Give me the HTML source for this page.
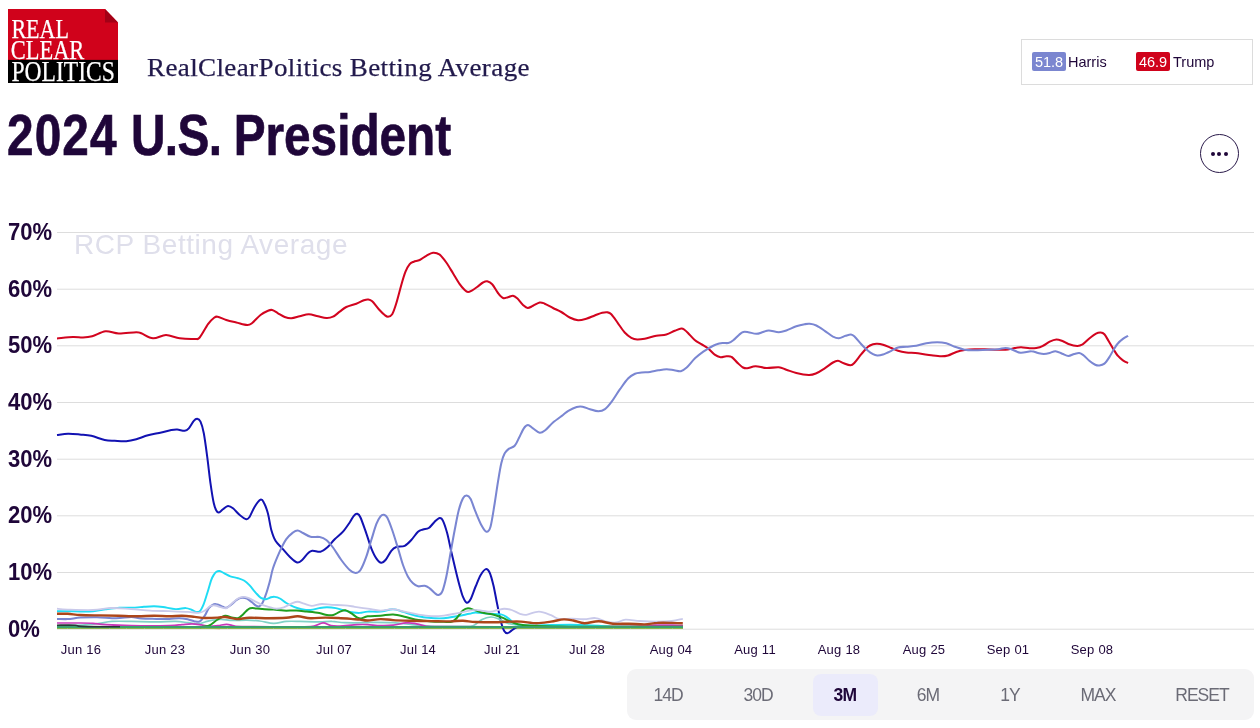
<!DOCTYPE html>
<html lang="en">
<head>
<meta charset="utf-8">
<title>2024 U.S. President - RealClearPolitics Betting Average</title>
<style>
html,body{margin:0;padding:0;background:#fff;}
body{width:1260px;height:728px;position:relative;overflow:hidden;font-family:"Liberation Sans",sans-serif;color:#1f0639;}
.abs{position:absolute;white-space:nowrap;}
#logo{position:absolute;left:8px;top:8.5px;width:110px;height:74px;}
#subtitle{left:147px;top:54px;font-family:"Liberation Serif",serif;font-size:25.5px;line-height:28px;color:#221a4c;transform-origin:0 50%;transform:scaleX(1.06);letter-spacing:0.36px;-webkit-text-stroke:0.25px #221a4c;}
#title{left:7.4px;top:102px;-webkit-text-stroke:0.7px #1f0639;font-weight:bold;font-size:58px;line-height:66px;color:#1f0639;transform-origin:0 50%;transform:scaleX(0.823);}
#legend{position:absolute;left:1021px;top:39px;width:231.8px;height:45.8px;border:1px solid #dcdcdc;box-sizing:border-box;background:#fff;}
.badge{position:absolute;top:12px;width:34px;height:19px;border-radius:2px;color:#fff;font-size:14.5px;line-height:20.5px;text-align:center;}
.lname{position:absolute;top:12px;font-size:14.5px;line-height:20.5px;color:#1f0639;}
#menu{position:absolute;left:1200px;top:134px;width:39px;height:39px;border:1.5px solid #2a1a4a;border-radius:50%;box-sizing:border-box;}
#menu i{position:absolute;top:16.7px;width:4px;height:4px;border-radius:50%;background:#1f0639;}
#chart{position:absolute;left:0;top:0;width:1260px;height:728px;}
.yl{font-weight:bold;font-size:23.2px;line-height:24px;left:7.6px;transform-origin:0 50%;transform:scaleX(0.95);color:#1f0639;}
.xl{font-size:13px;letter-spacing:0.25px;line-height:14px;top:642.7px;color:#1f0639;transform:translateX(-50%);}
#wm{left:74px;top:229px;font-size:28px;letter-spacing:0.55px;line-height:32px;color:#dfdfeb;}
#bar{position:absolute;left:627px;top:669px;width:626.5px;height:51px;border-radius:9px;background:#f4f4f5;}
.btn{position:absolute;top:5px;height:42px;width:65px;border-radius:8px;font-size:17.5px;letter-spacing:-1px;text-indent:-1px;line-height:43px;text-align:center;color:#6b6b76;}
.btn.on{background:#ebebfb;color:#1f0639;font-weight:bold;letter-spacing:-0.6px;}
</style>
</head>
<body>
<svg id="chart" viewBox="0 0 1260 728">
<g stroke="#dddddd" stroke-width="1" fill="none">
<path d="M57 232.5H1254M57 289.2H1254M57 345.8H1254M57 402.5H1254M57 459.2H1254M57 515.8H1254M57 572.5H1254M57 629.2H1254"/>
</g>
<!--LINES-->
<g fill="none" stroke-linecap="butt" stroke-linejoin="round">
<path id="s-orange" stroke="#e3a52c" stroke-width="1.4" d="M170.0 628.4C172.0 628.4 175.8 628.1 182.0 628.1C188.2 628.1 200.7 628.0 207.0 628.1C213.3 628.2 217.8 628.4 220.0 628.5"/>
<path id="s-yellowgreen" stroke="#a8c040" stroke-width="1.0" d="M57.0 628.5C161.3 628.5 578.7 628.5 683.0 628.5"/>
<path id="s-biden" stroke="#1212b2" stroke-width="2.0" d="M57.0 435.1C58.8 434.9 64.2 433.8 68.0 433.7C71.8 433.6 75.8 434.1 79.7 434.5C83.6 434.9 87.1 434.9 91.3 435.8C95.5 436.7 100.8 439.2 104.7 440.0C108.6 440.8 111.1 440.6 114.7 440.8C118.3 441.0 122.7 441.5 126.3 441.2C129.9 440.9 132.7 440.2 136.3 439.2C139.9 438.2 143.8 436.4 148.0 435.3C152.2 434.2 157.4 433.4 161.3 432.5C165.2 431.6 168.7 430.5 171.3 430.0C174.0 429.5 175.0 429.4 177.2 429.5C179.4 429.6 182.8 431.0 184.7 430.8C186.6 430.6 187.3 430.0 188.8 428.3C190.3 426.6 192.4 422.4 193.8 420.8C195.2 419.2 196.1 418.7 197.2 418.8C198.3 418.9 199.4 419.3 200.5 421.7C201.6 424.1 202.7 427.5 203.8 433.3C204.9 439.1 206.1 448.4 207.2 456.7C208.3 465.0 209.4 475.5 210.5 483.3C211.6 491.1 212.8 498.8 213.8 503.3C214.8 507.8 215.5 509.0 216.3 510.5C217.1 512.0 217.7 512.7 218.8 512.5C219.9 512.3 221.5 510.3 223.0 509.2C224.5 508.1 226.3 506.1 228.0 506.0C229.7 505.9 231.1 506.8 233.0 508.3C234.9 509.8 237.5 513.2 239.7 515.0C241.9 516.8 244.6 519.0 246.3 519.3C248.0 519.6 248.3 518.8 249.7 516.7C251.1 514.6 252.9 509.5 254.7 506.7C256.5 503.9 259.0 500.4 260.5 499.7C262.0 499.0 262.6 500.1 263.8 502.5C265.1 504.9 266.8 509.2 268.0 513.8C269.2 518.4 270.1 525.5 271.3 530.0C272.6 534.5 273.7 537.8 275.5 540.8C277.3 543.8 279.8 545.6 282.2 548.3C284.6 550.9 287.2 554.3 289.7 556.7C292.2 559.1 295.1 562.0 297.2 562.5C299.3 563.0 300.4 561.5 302.2 560.0C304.0 558.5 306.3 554.8 308.0 553.3C309.7 551.8 310.1 551.1 312.2 550.8C314.3 550.5 318.0 552.2 320.5 551.7C323.0 551.2 324.8 549.6 327.2 547.5C329.6 545.4 332.1 541.8 334.7 539.2C337.3 536.6 340.5 534.5 343.0 531.7C345.5 528.9 347.9 525.1 349.7 522.5C351.5 519.9 352.6 517.2 353.8 515.8C355.1 514.3 356.1 513.5 357.2 513.8C358.3 514.1 359.0 514.2 360.5 517.5C362.0 520.8 364.5 528.2 366.3 533.3C368.1 538.4 369.6 544.1 371.3 548.3C373.0 552.5 374.6 555.9 376.3 558.3C378.0 560.7 379.8 562.5 381.3 562.8C382.8 563.1 383.8 562.0 385.5 560.0C387.2 558.0 389.5 553.0 391.3 550.8C393.1 548.6 394.1 547.8 396.3 547.0C398.5 546.2 402.2 547.0 404.7 545.8C407.2 544.6 409.1 542.4 411.3 540.0C413.5 537.6 416.1 533.5 418.0 531.7C419.9 530.0 421.2 530.1 423.0 529.5C424.8 528.9 426.9 529.3 428.8 528.0C430.8 526.7 432.9 523.4 434.7 521.7C436.5 520.0 438.3 518.1 439.7 518.0C441.1 517.9 441.8 518.2 443.0 520.8C444.2 523.3 445.8 528.1 447.2 533.3C448.6 538.4 449.9 545.8 451.3 551.7C452.7 557.6 454.0 563.3 455.3 568.7C456.6 574.1 457.8 579.2 459.1 583.9C460.4 588.5 461.6 593.5 462.9 596.6C464.2 599.7 465.4 602.3 466.7 602.7C468.0 603.1 469.1 601.9 470.6 599.2C472.1 596.5 473.9 590.5 475.6 586.5C477.3 582.5 479.0 577.9 480.7 575.0C482.4 572.1 484.3 569.5 485.8 569.1C487.3 568.7 488.3 569.8 489.6 572.5C490.9 575.2 492.1 579.9 493.4 585.2C494.7 590.5 495.9 598.2 497.2 604.3C498.5 610.4 499.8 617.6 501.0 622.0C502.2 626.4 503.1 629.0 504.2 630.9C505.3 632.8 506.2 633.2 507.4 633.2C508.6 633.2 509.9 631.8 511.2 630.9C512.5 630.0 513.9 628.8 515.0 628.1C516.1 627.4 517.0 627.0 518.0 626.6C519.0 626.2 520.5 626.1 521.0 626.0"/>
<path id="s-trump" stroke="#d2041f" stroke-width="2.05" d="M57.0 338.4C59.7 338.2 68.7 337.1 73.0 337.0C77.3 336.9 79.8 337.6 83.0 337.5C86.2 337.4 88.5 337.3 92.2 336.3C96.0 335.3 101.1 331.8 105.5 331.3C109.9 330.8 113.7 333.4 118.8 333.5C123.9 333.6 132.6 332.2 136.3 332.2C140.1 332.2 138.5 332.3 141.3 333.3C144.1 334.3 148.9 338.0 153.0 338.3C157.1 338.6 161.6 335.0 166.0 335.0C170.4 335.0 174.9 337.6 179.7 338.3C184.5 339.0 191.4 339.1 194.7 339.0C198.0 338.9 197.5 340.0 199.7 337.5C201.9 335.0 205.7 327.4 208.0 324.2C210.3 320.9 212.2 319.2 213.8 318.0C215.4 316.8 215.4 316.4 217.5 316.7C219.6 317.0 223.2 319.0 226.3 320.0C229.4 321.0 232.8 321.7 236.3 322.5C239.8 323.3 244.5 324.9 247.2 325.0C249.8 325.1 250.0 324.7 252.2 323.0C254.4 321.3 257.9 317.0 260.5 315.0C263.1 313.0 266.1 311.6 268.0 310.8C269.9 310.0 270.5 309.6 272.2 310.0C273.9 310.4 275.9 312.1 278.0 313.3C280.1 314.5 282.5 316.2 284.7 317.0C286.9 317.8 288.8 318.4 291.3 318.3C293.8 318.2 296.8 317.0 299.7 316.3C302.6 315.6 305.8 314.2 308.8 314.2C311.9 314.2 315.1 315.7 318.0 316.3C320.9 316.9 323.8 317.9 326.3 318.0C328.8 318.1 330.8 317.8 333.0 316.7C335.2 315.6 337.5 313.3 339.7 311.7C341.9 310.1 343.5 308.3 346.3 307.0C349.1 305.7 353.4 304.8 356.3 303.7C359.2 302.6 361.9 301.0 363.8 300.3C365.8 299.6 366.6 299.3 368.0 299.5C369.4 299.7 370.4 299.7 372.2 301.3C374.0 302.9 376.7 306.9 378.8 309.2C380.9 311.5 383.2 313.8 384.7 315.0C386.2 316.2 386.8 316.8 388.0 316.7C389.2 316.6 390.8 316.4 392.2 314.2C393.6 312.0 394.8 308.2 396.3 303.3C397.8 298.4 399.8 290.3 401.3 285.0C402.8 279.7 404.1 275.2 405.5 271.7C406.9 268.2 408.3 265.9 409.7 264.2C411.1 262.5 412.1 262.4 413.8 261.7C415.5 261.0 417.6 261.0 419.7 260.0C421.8 259.0 424.1 257.0 426.3 255.8C428.5 254.6 430.8 252.9 433.0 252.7C435.2 252.5 437.5 253.1 439.7 254.7C441.9 256.3 444.1 259.4 446.3 262.5C448.5 265.6 450.8 269.7 453.0 273.3C455.2 276.9 457.8 281.4 459.7 284.2C461.6 287.0 463.3 288.7 464.7 290.0C466.1 291.3 466.8 291.9 468.0 292.0C469.2 292.1 470.5 291.2 472.2 290.3C473.9 289.4 476.2 287.6 478.0 286.3C479.8 285.0 481.5 283.3 483.0 282.5C484.5 281.7 485.7 281.0 487.2 281.3C488.7 281.6 490.4 282.2 492.2 284.2C494.0 286.1 496.2 290.7 498.0 293.0C499.8 295.3 501.3 297.3 503.0 298.0C504.7 298.7 506.3 297.6 508.0 297.2C509.7 296.8 511.5 295.5 513.0 295.7C514.5 295.9 515.5 296.8 517.2 298.3C518.9 299.9 521.2 303.4 523.0 305.0C524.8 306.6 526.0 307.9 527.7 308.0C529.4 308.1 531.0 306.7 533.0 305.8C535.0 304.9 537.8 302.9 539.7 302.5C541.7 302.1 542.5 302.8 544.7 303.7C546.9 304.6 550.2 306.6 553.0 308.0C555.8 309.4 558.5 310.4 561.3 312.0C564.1 313.6 566.9 316.1 569.7 317.5C572.5 318.9 575.2 320.0 578.0 320.2C580.8 320.4 583.5 319.5 586.3 318.7C589.1 317.9 592.1 316.5 594.7 315.5C597.4 314.5 600.1 313.3 602.2 312.8C604.3 312.3 605.7 312.1 607.2 312.3C608.7 312.5 609.5 312.4 611.3 314.2C613.1 316.0 615.8 320.2 618.0 323.3C620.2 326.4 622.5 330.1 624.7 332.5C626.9 334.9 629.2 336.6 631.3 337.8C633.4 339.0 635.0 339.4 637.2 339.5C639.4 339.6 641.5 339.3 644.7 338.7C647.9 338.1 652.7 336.5 656.3 335.8C659.9 335.1 663.2 335.3 666.3 334.5C669.4 333.7 672.2 331.8 674.7 330.8C677.2 329.8 679.6 328.6 681.3 328.5C683.0 328.4 683.6 329.2 684.7 330.0C685.8 330.8 686.3 331.3 688.0 333.0C689.7 334.7 692.5 338.1 694.7 340.0C696.9 341.9 699.1 342.8 701.3 344.2C703.5 345.6 705.8 346.6 708.0 348.3C710.2 350.1 712.6 353.2 714.7 354.7C716.8 356.2 718.6 356.9 720.5 357.2C722.4 357.5 724.4 356.3 726.3 356.3C728.2 356.3 729.8 355.8 731.7 357.0C733.7 358.2 736.1 361.6 738.0 363.3C739.9 365.1 741.5 366.7 743.0 367.5C744.5 368.3 745.1 368.5 747.2 368.3C749.3 368.1 752.3 366.4 755.5 366.3C758.7 366.2 762.4 367.8 766.3 368.0C770.2 368.2 775.5 367.0 778.8 367.3C782.1 367.6 783.4 368.8 786.3 369.7C789.2 370.6 792.5 372.1 796.3 373.0C800.0 373.9 805.5 374.9 808.8 375.0C812.1 375.1 813.6 374.4 816.3 373.3C818.9 372.2 821.9 370.1 824.7 368.3C827.5 366.5 830.8 363.8 833.0 362.5C835.2 361.2 836.2 360.7 838.0 360.8C839.8 360.9 841.7 362.6 843.8 363.3C845.9 364.1 848.7 365.4 850.5 365.3C852.3 365.2 852.9 364.4 854.7 362.5C856.5 360.6 859.1 356.8 861.3 354.2C863.5 351.6 866.0 348.4 868.0 346.7C870.0 345.0 871.5 344.7 873.0 344.2C874.5 343.7 875.5 343.6 877.2 343.7C878.9 343.8 880.6 344.0 883.0 344.7C885.4 345.4 888.8 347.0 891.3 348.0C893.8 349.0 895.5 350.1 898.0 350.8C900.5 351.6 903.0 352.1 906.3 352.5C909.6 352.9 913.8 352.8 918.0 353.3C922.2 353.8 927.4 354.8 931.3 355.3C935.2 355.8 938.5 356.3 941.3 356.3C944.1 356.3 945.5 356.2 948.0 355.5C950.5 354.8 953.5 352.9 956.3 352.0C959.1 351.1 961.6 350.5 964.7 350.0C967.8 349.5 971.4 349.3 974.7 349.2C978.0 349.1 980.8 349.2 984.7 349.3C988.6 349.4 994.1 349.7 998.0 349.7C1001.9 349.7 1005.2 349.8 1008.0 349.5C1010.8 349.2 1012.5 348.4 1014.7 348.0C1016.9 347.6 1018.8 347.2 1021.3 347.3C1023.8 347.4 1027.2 348.2 1029.7 348.3C1032.2 348.4 1034.1 348.4 1036.3 348.0C1038.5 347.6 1040.8 346.9 1043.0 345.8C1045.2 344.8 1047.5 342.8 1049.7 341.7C1051.9 340.6 1054.1 339.6 1056.3 339.5C1058.5 339.4 1061.0 340.6 1063.0 341.3C1065.0 342.1 1066.0 343.2 1068.4 344.0C1070.8 344.8 1074.8 345.9 1077.2 346.0C1079.6 346.1 1080.6 345.6 1082.6 344.4C1084.6 343.1 1087.1 340.3 1089.3 338.5C1091.5 336.7 1094.1 334.6 1096.0 333.6C1097.9 332.6 1099.3 332.4 1100.7 332.5C1102.1 332.6 1103.1 332.9 1104.4 334.3C1105.7 335.7 1107.1 338.5 1108.6 341.0C1110.1 343.5 1112.1 346.9 1113.6 349.4C1115.1 351.8 1116.2 353.9 1117.8 355.7C1119.3 357.5 1121.2 359.1 1122.9 360.3C1124.6 361.5 1127.2 362.6 1128.1 363.0"/>
<path id="s-harris" stroke="#7a86d2" stroke-width="2.05" d="M57.0 618.9C58.8 618.9 63.8 619.3 67.7 619.1C71.6 618.9 75.5 617.9 80.4 617.6C85.3 617.3 91.1 617.1 97.0 617.2C102.9 617.3 110.3 618.2 116.0 618.2C121.7 618.2 127.0 617.0 131.2 617.0C135.4 617.0 137.1 618.2 141.3 618.5C145.5 618.8 151.9 618.8 156.6 618.9C161.3 619.0 165.5 619.0 169.3 618.9C173.1 618.8 176.2 618.1 179.4 618.2C182.6 618.3 185.8 619.0 188.3 619.5C190.9 620.0 192.8 621.1 194.7 621.4C196.6 621.7 198.1 622.3 199.8 621.4C201.5 620.5 203.3 617.9 204.8 615.7C206.3 613.5 207.3 610.0 208.8 608.1C210.3 606.2 212.4 604.9 213.9 604.3C215.4 603.7 216.2 604.2 217.7 604.6C219.2 605.0 221.3 606.3 222.8 606.8C224.3 607.3 225.1 608.2 226.6 607.8C228.1 607.4 230.0 605.6 231.7 604.3C233.4 603.0 235.0 600.9 236.7 599.8C238.4 598.7 240.1 597.9 241.8 597.7C243.5 597.5 245.2 597.7 246.9 598.5C248.6 599.3 250.5 601.1 252.0 602.3C253.5 603.5 254.6 604.8 255.8 605.5C257.0 606.2 257.9 606.8 259.0 606.5C260.1 606.2 260.9 605.7 262.1 603.6C263.3 601.5 264.7 597.8 266.0 594.1C267.3 590.4 268.6 585.7 269.8 581.4C271.0 577.1 271.4 573.2 273.0 568.3C274.6 563.3 277.5 556.6 279.7 551.7C281.9 546.9 284.1 542.4 286.3 539.2C288.5 536.0 291.1 534.0 293.0 532.5C294.9 531.0 296.0 530.4 297.7 530.5C299.4 530.6 300.9 532.0 303.0 533.0C305.1 534.0 307.7 536.0 310.5 536.7C313.3 537.4 317.1 536.5 319.7 537.0C322.3 537.5 324.1 538.2 326.3 540.0C328.5 541.8 330.5 544.2 333.0 547.5C335.5 550.8 338.5 556.2 341.3 560.0C344.1 563.8 347.3 567.8 349.7 570.0C352.1 572.2 353.7 573.0 355.5 573.0C357.3 573.0 358.7 572.7 360.5 570.0C362.3 567.3 364.5 561.7 366.3 556.7C368.1 551.7 369.6 545.4 371.3 540.0C373.0 534.6 374.8 528.2 376.3 524.2C377.8 520.2 379.2 517.9 380.5 516.3C381.8 514.7 382.7 514.5 383.8 514.7C384.9 514.9 385.8 515.0 387.2 517.5C388.6 520.0 390.4 524.9 392.2 530.0C394.0 535.1 396.2 542.5 398.0 548.3C399.8 554.1 401.3 560.3 403.0 565.0C404.7 569.7 406.3 573.7 408.0 576.7C409.7 579.8 411.3 581.7 413.0 583.3C414.7 584.9 416.1 585.9 418.0 586.3C419.9 586.7 422.8 585.5 424.7 585.8C426.6 586.1 428.0 587.1 429.7 588.3C431.4 589.5 433.3 591.9 434.7 593.0C436.1 594.1 437.1 595.2 438.3 595.0C439.6 594.8 440.9 594.8 442.2 591.7C443.5 588.7 444.9 583.1 446.3 576.7C447.7 570.3 449.1 561.1 450.5 553.3C451.9 545.5 453.3 537.2 454.7 530.0C456.1 522.8 457.4 515.3 458.8 510.0C460.2 504.7 461.7 500.7 463.0 498.3C464.3 495.9 465.4 495.4 466.7 495.5C467.9 495.6 469.0 496.1 470.5 498.8C472.0 501.5 473.7 507.3 475.5 511.7C477.3 516.1 479.5 521.7 481.3 525.0C483.1 528.3 484.8 531.4 486.3 531.7C487.8 532.0 489.1 531.4 490.5 526.7C491.9 522.0 493.4 510.8 494.7 503.3C495.9 495.8 496.9 488.4 498.0 481.7C499.1 475.0 500.2 468.0 501.3 463.3C502.4 458.6 503.4 455.7 504.7 453.3C505.9 450.9 507.1 450.1 508.8 448.8C510.5 447.6 513.0 447.6 514.7 445.8C516.4 444.1 517.3 441.2 518.8 438.3C520.3 435.4 522.3 430.5 523.8 428.3C525.3 426.1 526.5 425.0 528.0 425.0C529.5 425.0 531.0 427.0 533.0 428.3C535.0 429.6 537.6 432.5 539.7 432.8C541.8 433.1 543.3 431.7 545.5 430.0C547.7 428.3 550.1 425.0 553.0 422.5C555.9 420.0 560.5 416.9 563.0 415.0C565.5 413.1 566.0 412.1 568.3 410.8C570.6 409.5 574.3 407.7 576.7 407.0C579.1 406.3 580.3 406.3 582.5 406.7C584.7 407.1 587.4 408.4 590.0 409.2C592.6 410.0 595.8 411.3 598.3 411.3C600.8 411.3 602.8 410.8 605.0 409.2C607.2 407.6 609.2 405.0 611.7 401.7C614.2 398.4 617.2 393.1 620.0 389.2C622.8 385.3 625.8 380.9 628.3 378.3C630.8 375.7 632.8 374.7 635.0 373.7C637.2 372.7 639.2 372.8 641.7 372.5C644.2 372.2 647.2 372.4 650.0 372.0C652.8 371.6 655.5 370.8 658.3 370.3C661.1 369.8 664.1 369.2 666.7 369.2C669.4 369.2 671.9 370.0 674.2 370.3C676.6 370.6 678.7 371.7 680.8 371.2C682.9 370.7 684.3 369.6 686.7 367.5C689.1 365.4 692.2 360.9 695.0 358.3C697.8 355.7 700.8 353.5 703.3 351.7C705.8 349.9 707.8 348.8 710.0 347.5C712.2 346.2 714.6 344.9 716.7 344.2C718.8 343.4 720.6 343.2 722.5 343.0C724.4 342.8 726.5 343.4 728.3 343.0C730.1 342.6 731.5 341.7 733.3 340.3C735.1 338.9 737.5 336.1 739.2 334.7C740.9 333.3 741.8 332.4 743.3 332.0C744.8 331.6 746.1 331.9 748.3 332.2C750.5 332.5 753.8 333.8 756.3 333.8C758.8 333.8 760.9 332.6 763.0 332.0C765.1 331.4 766.2 330.5 768.8 330.5C771.4 330.5 775.9 332.2 778.8 332.2C781.7 332.2 783.4 331.5 786.3 330.5C789.2 329.5 793.2 327.4 796.3 326.3C799.4 325.2 802.5 324.6 804.7 324.2C806.9 323.8 807.8 323.6 809.7 323.8C811.6 324.0 813.8 324.3 816.3 325.5C818.8 326.7 821.9 328.9 824.7 330.8C827.5 332.7 830.6 335.4 833.0 336.7C835.4 337.9 836.7 338.4 838.8 338.3C840.9 338.2 843.5 336.4 845.5 335.8C847.5 335.2 849.5 334.4 851.0 334.5C852.5 334.6 853.0 335.1 854.7 336.7C856.4 338.3 859.1 341.8 861.3 344.2C863.5 346.6 866.0 349.1 868.0 350.8C870.0 352.5 871.5 353.4 873.0 354.2C874.5 355.0 875.5 355.4 877.2 355.5C878.9 355.6 880.6 355.3 883.0 354.5C885.4 353.7 888.8 352.0 891.3 350.8C893.8 349.6 895.5 348.2 898.0 347.5C900.5 346.8 903.2 347.0 906.3 346.7C909.3 346.4 913.0 346.4 916.3 345.8C919.6 345.2 922.8 343.9 926.3 343.3C929.8 342.7 933.9 342.3 937.2 342.3C940.5 342.3 943.4 342.6 946.3 343.3C949.2 344.0 951.6 345.6 954.7 346.7C957.8 347.8 961.4 349.1 964.7 349.7C968.0 350.3 970.8 350.2 974.7 350.2C978.6 350.2 984.1 349.8 988.0 349.7C991.9 349.6 995.1 349.6 998.0 349.3C1000.9 349.0 1003.3 348.0 1005.5 348.0C1007.7 348.0 1008.8 348.4 1011.3 349.2C1013.8 350.0 1017.2 352.4 1020.5 352.7C1023.8 353.0 1028.4 351.1 1031.3 351.2C1034.2 351.2 1035.9 352.5 1038.0 353.0C1040.1 353.5 1041.8 354.0 1043.8 354.0C1045.8 354.0 1047.8 353.5 1049.7 353.0C1051.7 352.5 1053.4 351.1 1055.5 351.2C1057.6 351.3 1060.0 352.9 1062.2 353.7C1064.4 354.5 1066.4 355.8 1068.4 355.9C1070.4 355.9 1072.4 354.5 1074.2 354.0C1076.0 353.5 1077.8 352.8 1079.3 353.0C1080.8 353.2 1081.8 354.0 1083.5 355.3C1085.2 356.6 1087.3 359.1 1089.3 360.7C1091.2 362.3 1093.5 363.9 1095.2 364.7C1096.9 365.5 1097.9 365.7 1099.4 365.5C1100.9 365.3 1102.7 365.0 1104.4 363.6C1106.1 362.2 1108.0 359.2 1109.5 356.9C1111.0 354.6 1112.2 352.0 1113.6 349.8C1115.0 347.6 1116.2 345.3 1117.8 343.5C1119.3 341.7 1121.2 340.2 1122.9 338.9C1124.6 337.6 1127.2 336.3 1128.1 335.8"/>
<path id="s-teal" stroke="#7fd2c6" stroke-width="1.7" d="M57.0 626.0C60.2 625.9 70.8 625.6 76.0 625.4C81.2 625.2 84.1 625.0 88.0 624.6C91.9 624.2 95.4 623.8 99.4 623.3C103.4 622.8 106.7 621.7 112.0 621.4C117.3 621.1 123.8 621.3 131.2 621.4C138.6 621.5 149.2 621.8 156.6 621.8C164.0 621.8 170.3 621.2 175.6 621.4C180.9 621.5 184.5 622.3 188.3 622.7C192.1 623.1 195.7 624.0 198.5 623.9C201.3 623.8 202.7 622.6 205.0 622.0C207.3 621.4 209.8 620.5 212.6 620.1C215.3 619.7 218.1 619.4 221.5 619.5C224.9 619.6 228.7 620.4 232.9 620.5C237.1 620.6 242.4 620.0 246.9 620.1C251.4 620.2 255.2 620.5 259.6 621.0C264.1 621.5 269.2 623.2 273.6 623.3C278.1 623.4 281.9 621.7 286.3 621.4C290.7 621.1 294.7 621.3 300.2 621.4C305.7 621.5 314.0 621.8 319.3 621.8C324.6 621.8 327.8 621.2 332.0 621.4C336.2 621.5 339.2 622.5 344.7 622.7C350.2 622.9 360.1 622.8 365.0 622.7C369.9 622.6 369.3 622.3 374.0 622.3C378.7 622.3 386.8 622.3 393.1 622.7C399.4 623.1 405.9 624.1 412.0 624.6C418.1 625.1 422.0 625.7 430.0 626.0C438.0 626.3 452.8 626.3 460.0 626.3C467.2 626.3 469.3 626.9 473.0 625.8C476.7 624.7 479.0 621.0 482.0 619.5C485.0 618.0 488.1 617.1 490.9 617.0C493.6 616.9 495.8 617.9 498.5 618.9C501.2 619.9 504.6 622.3 507.4 623.3C510.1 624.2 511.2 624.2 515.0 624.6C518.8 625.0 519.2 625.5 530.0 625.8C540.8 626.1 554.5 626.1 580.0 626.2C605.5 626.3 665.8 626.2 683.0 626.2"/>
<path id="s-magenta" stroke="#c738b8" stroke-width="1.7" d="M57.0 623.0C60.9 623.0 74.4 623.0 80.4 623.0C86.4 623.0 88.8 623.0 93.0 623.3C97.2 623.6 99.4 624.2 105.8 624.6C112.2 625.0 120.6 625.4 131.2 625.6C141.8 625.8 160.8 625.8 169.3 625.6C177.8 625.4 178.2 624.9 182.0 624.6C185.8 624.3 188.8 623.9 192.0 623.9C195.2 623.9 198.0 624.4 201.0 624.8C204.0 625.2 207.2 626.2 210.0 626.3C212.8 626.4 215.2 625.9 218.0 625.6C220.8 625.3 223.9 624.3 226.6 624.3C229.3 624.3 231.4 625.4 234.0 625.8C236.6 626.2 231.0 626.4 242.0 626.6C253.0 626.8 288.0 626.9 300.0 626.8C312.0 626.7 310.2 626.6 314.0 626.0C317.8 625.4 320.2 623.0 323.0 622.9C325.8 622.8 328.2 625.1 331.0 625.6C333.8 626.1 335.6 626.2 340.0 626.0C344.4 625.8 352.8 624.8 357.4 624.6C362.0 624.4 363.9 624.4 367.7 624.6C371.5 624.8 376.2 625.5 380.4 625.6C384.6 625.7 388.9 625.7 393.1 625.2C397.3 624.8 402.2 623.2 405.8 622.9C409.4 622.6 411.7 622.8 414.7 623.3C417.7 623.8 420.2 625.0 423.6 625.6C427.0 626.2 422.3 626.4 435.0 626.6C447.7 626.8 472.5 626.8 500.0 626.8C527.5 626.8 576.7 626.7 600.0 626.6C623.3 626.5 630.8 626.4 640.0 626.2C649.2 626.0 649.7 625.4 655.0 625.2C660.3 625.0 667.3 625.1 672.0 625.2C676.7 625.3 681.2 625.5 683.0 625.6"/>
<path id="s-cyan" stroke="#1fdcf4" stroke-width="1.95" d="M57.0 611.2C58.8 611.2 63.8 611.2 67.7 611.2C71.6 611.2 76.2 611.5 80.4 611.5C84.6 611.5 88.8 611.6 93.0 611.2C97.2 610.8 101.5 609.9 105.8 609.3C110.0 608.7 114.3 608.0 118.5 607.8C122.7 607.5 127.0 608.0 131.2 607.8C135.4 607.6 140.1 607.1 143.9 606.8C147.7 606.5 150.8 606.2 154.0 606.2C157.2 606.2 159.4 606.5 163.0 607.0C166.6 607.5 171.8 608.9 175.6 609.1C179.4 609.3 183.1 608.0 185.8 608.1C188.5 608.2 190.3 609.4 192.0 610.0C193.7 610.6 194.7 611.7 196.0 611.9C197.3 612.1 198.5 612.5 199.8 611.2C201.1 609.9 202.3 607.4 203.6 604.3C204.9 601.2 206.1 596.8 207.4 592.8C208.7 588.8 210.1 583.1 211.2 580.1C212.3 577.1 213.1 575.9 214.0 574.5C214.9 573.1 215.5 572.4 216.4 571.8C217.3 571.2 218.3 570.8 219.6 571.0C220.9 571.2 222.2 572.2 224.0 573.1C225.8 574.0 228.1 575.4 230.4 576.3C232.7 577.1 235.7 577.5 238.0 578.2C240.3 579.0 242.5 579.6 244.4 580.8C246.3 582.0 247.5 583.2 249.4 585.2C251.3 587.2 253.9 590.7 255.8 592.8C257.7 594.9 259.2 596.8 260.9 597.9C262.6 599.0 264.3 599.3 266.0 599.2C267.7 599.1 269.5 597.7 271.0 597.3C272.5 596.9 273.3 596.7 274.8 596.9C276.3 597.1 278.0 597.5 279.9 598.5C281.8 599.5 284.0 601.6 286.3 603.0C288.6 604.4 291.4 605.8 293.9 606.8C296.4 607.8 298.8 608.6 301.5 609.1C304.2 609.6 307.4 610.2 310.4 610.0C313.4 609.8 316.6 608.6 319.3 608.1C322.1 607.6 324.1 607.2 326.9 607.2C329.6 607.2 332.8 607.5 335.8 608.1C338.8 608.7 341.7 609.9 344.7 610.6C347.7 611.3 351.1 612.1 353.6 612.5C356.1 612.9 357.5 613.0 359.9 612.9C362.2 612.8 364.3 611.8 367.7 611.6C371.1 611.4 376.2 612.0 380.4 611.6C384.6 611.2 389.3 609.2 393.1 609.3C396.9 609.3 399.5 610.8 403.3 611.9C407.1 613.0 411.4 614.7 416.0 615.7C420.6 616.7 426.6 617.6 431.2 618.0C435.8 618.4 439.7 618.5 443.9 618.2C448.1 617.9 452.4 617.0 456.6 616.3C460.8 615.6 466.1 614.4 469.3 613.8C472.5 613.2 472.4 612.5 475.6 612.5C478.8 612.5 484.1 613.5 488.3 613.8C492.5 614.1 497.8 613.8 501.0 614.4C504.2 615.0 505.6 616.4 507.4 617.6C509.2 618.8 510.2 620.3 512.0 621.5C513.8 622.7 514.8 623.9 518.0 624.6C521.2 625.3 525.3 625.4 531.0 625.5C536.7 625.6 545.5 625.1 552.0 625.0C558.5 624.9 564.0 624.8 570.0 624.8C576.0 624.8 581.3 624.9 588.0 625.2C594.7 625.5 606.3 626.3 610.0 626.5"/>
<path id="s-green" stroke="#1f9e1f" stroke-width="2.0" d="M200.0 627.2C200.8 627.1 203.3 626.8 205.0 626.5C206.7 626.2 207.9 626.4 210.0 625.2C212.1 624.0 215.1 621.1 217.7 619.5C220.2 617.9 223.0 616.0 225.3 615.7C227.6 615.4 229.6 617.2 231.7 617.6C233.8 618.0 236.1 618.7 238.0 618.2C239.9 617.7 241.3 615.9 243.0 614.4C244.7 612.9 246.6 610.3 248.2 609.3C249.8 608.2 250.3 608.1 252.6 608.1C254.9 608.1 258.6 608.9 262.1 609.1C265.6 609.4 270.0 609.4 273.6 609.6C277.2 609.9 279.9 610.4 283.7 610.6C287.5 610.8 292.6 610.4 296.4 610.6C300.2 610.8 302.8 611.2 306.6 611.6C310.4 612.0 315.9 612.5 319.3 613.1C322.7 613.7 324.6 614.7 326.9 615.0C329.2 615.3 331.2 615.5 333.3 615.0C335.4 614.5 337.6 612.7 339.6 611.9C341.6 611.1 343.4 610.1 345.3 610.3C347.2 610.5 349.0 611.9 351.0 613.1C353.0 614.3 355.7 616.7 357.4 617.6C359.1 618.5 359.5 618.7 361.2 618.5C362.9 618.3 364.5 616.8 367.7 616.3C370.9 615.8 376.2 616.0 380.4 615.7C384.6 615.4 388.9 614.2 393.1 614.4C397.3 614.6 401.6 616.0 405.8 617.0C410.0 618.0 414.3 619.4 418.5 620.1C422.7 620.8 427.0 621.1 431.2 621.4C435.4 621.7 440.5 621.7 443.9 621.8C447.3 621.9 449.4 622.4 451.5 621.8C453.6 621.2 454.7 620.1 456.6 618.2C458.5 616.3 461.0 612.2 462.9 610.6C464.8 609.0 466.1 608.4 468.0 608.3C469.9 608.2 472.1 609.3 474.4 610.0C476.7 610.7 478.6 611.7 482.0 612.5C485.4 613.3 491.1 614.0 494.7 615.0C498.3 616.0 501.1 617.1 503.6 618.2C506.1 619.3 507.5 620.4 509.9 621.4C512.3 622.4 514.4 623.5 518.0 624.2C521.6 624.9 524.3 625.4 531.3 625.8C538.3 626.2 548.5 626.3 560.0 626.5C571.5 626.7 579.5 626.8 600.0 626.8C620.5 626.8 669.2 626.8 683.0 626.8"/>
<path id="s-lav" stroke="#c9c9ea" stroke-width="1.85" d="M57.0 608.7C58.8 608.9 61.7 609.4 67.7 609.6C73.7 609.8 85.6 610.3 93.0 610.0C100.4 609.7 105.7 608.2 112.0 608.0C118.3 607.8 124.7 608.6 131.0 609.0C137.3 609.4 143.7 610.2 150.0 610.6C156.3 611.0 162.7 611.0 169.0 611.2C175.3 611.4 183.1 611.6 188.0 611.9C192.9 612.2 195.7 613.1 198.5 612.9C201.3 612.7 202.9 611.7 204.8 610.6C206.7 609.5 208.3 607.1 210.0 606.2C211.7 605.4 213.3 605.3 215.2 605.5C217.1 605.7 219.6 607.0 221.5 607.4C223.4 607.8 224.9 608.7 226.6 608.1C228.3 607.5 229.8 605.2 231.7 603.6C233.6 602.0 236.1 599.6 238.0 598.5C239.9 597.4 241.3 597.0 243.0 596.9C244.7 596.8 246.3 597.2 248.2 597.9C250.1 598.6 252.4 600.0 254.5 601.1C256.6 602.2 258.6 603.3 260.9 604.3C263.2 605.2 266.0 606.1 268.5 606.8C271.0 607.5 273.6 608.6 276.1 608.7C278.6 608.8 281.2 608.2 283.7 607.4C286.2 606.5 289.0 604.5 291.3 603.6C293.6 602.7 295.6 601.7 297.7 601.7C299.8 601.7 301.7 602.9 304.0 603.6C306.3 604.3 308.7 605.7 311.7 605.8C314.7 605.9 318.4 604.1 321.8 604.0C325.2 603.9 328.2 604.7 332.0 604.9C335.8 605.1 340.9 605.0 344.7 605.3C348.5 605.6 351.0 606.2 354.8 606.8C358.6 607.4 363.4 608.1 367.7 608.7C372.0 609.3 376.2 610.5 380.4 610.6C384.6 610.7 388.9 608.9 393.1 609.1C397.3 609.3 401.6 611.0 405.8 611.9C410.0 612.8 414.3 614.0 418.5 614.7C422.7 615.4 427.0 616.1 431.2 616.2C435.4 616.4 439.7 616.1 443.9 615.6C448.1 615.1 452.4 614.1 456.6 613.3C460.8 612.5 466.1 611.2 469.3 610.6C472.5 610.0 473.8 609.8 476.0 609.8C478.2 609.8 480.3 610.6 482.8 610.9C485.3 611.2 488.5 611.9 491.0 611.7C493.5 611.6 495.5 610.5 497.7 610.0C499.9 609.5 502.0 608.7 504.3 608.7C506.6 608.7 509.1 609.1 511.7 610.0C514.3 610.9 517.6 613.0 520.0 613.8C522.4 614.6 523.1 615.1 526.3 614.8C529.5 614.4 534.9 611.6 539.0 611.7C543.1 611.8 547.7 614.0 551.0 615.2C554.3 616.4 555.5 618.3 559.0 618.9C562.5 619.5 567.5 618.5 571.7 618.6C575.9 618.7 580.4 619.3 584.4 619.2C588.4 619.1 591.8 617.7 595.5 618.1C599.2 618.5 603.2 620.9 606.6 621.6C610.0 622.3 612.8 622.8 616.0 622.5C619.2 622.2 621.6 620.0 625.6 619.7C629.6 619.5 634.9 620.7 639.9 621.0C644.9 621.3 650.5 621.6 655.8 621.6C661.1 621.6 667.2 621.5 671.7 621.0C676.2 620.5 680.9 619.2 682.8 618.9"/>
<path id="s-base" stroke="#3aa06c" stroke-width="2.3" d="M57.0 627.2C161.3 627.2 578.7 627.2 683.0 627.2"/>
<path id="s-dark" stroke="#2a3838" stroke-width="1.6" d="M57.0 625.2C60.0 625.2 70.8 625.0 75.0 625.2C79.2 625.4 74.5 626.1 82.0 626.4C89.5 626.7 113.7 626.7 120.0 626.8"/>
<path id="s-brown" stroke="#ad461a" stroke-width="2.4" d="M57.0 613.8C58.8 613.8 63.8 613.6 67.7 613.8C71.6 614.0 75.1 614.7 80.4 615.0C85.7 615.3 93.1 615.3 99.4 615.4C105.8 615.5 112.2 615.6 118.5 615.7C124.8 615.9 131.6 616.3 137.5 616.3C143.4 616.3 148.7 615.7 154.0 615.7C159.3 615.7 164.6 616.3 169.3 616.3C174.0 616.3 177.8 615.6 182.0 615.7C186.2 615.8 190.9 616.5 194.7 616.9C198.5 617.3 201.2 617.9 205.0 618.0C208.8 618.1 214.3 617.8 217.7 617.6C221.1 617.4 222.1 616.8 225.3 617.0C228.5 617.2 232.7 619.0 236.7 619.1C240.7 619.2 244.1 617.9 249.4 617.8C254.7 617.6 262.4 618.2 268.5 618.2C274.6 618.2 281.4 618.1 286.3 617.8C291.2 617.5 293.7 616.2 297.7 616.3C301.7 616.4 305.8 618.0 310.4 618.2C315.0 618.4 321.0 617.6 325.6 617.6C330.2 617.6 334.1 617.8 338.3 618.0C342.5 618.2 347.4 618.6 351.0 618.9C354.6 619.2 357.2 619.3 360.0 619.6C362.8 619.9 364.3 620.6 367.7 620.5C371.1 620.4 376.2 619.2 380.4 619.1C384.6 619.0 387.8 619.8 393.1 620.1C398.4 620.4 405.6 620.6 412.0 620.8C418.4 621.0 424.8 621.0 431.2 621.1C437.6 621.2 444.9 621.5 450.2 621.4C455.5 621.3 458.7 620.7 462.9 620.8C467.1 620.9 470.3 621.8 475.6 622.0C480.9 622.2 489.4 622.3 494.7 622.3C500.0 622.2 503.0 621.8 507.4 621.7C511.8 621.6 516.0 621.4 520.9 621.6C525.8 621.9 531.7 623.2 536.7 623.2C541.7 623.2 546.5 622.2 551.0 621.6C555.5 621.0 560.0 619.6 563.7 619.4C567.4 619.2 569.8 619.9 573.3 620.5C576.8 621.1 580.2 623.1 584.4 623.2C588.6 623.3 594.0 621.2 598.7 621.3C603.5 621.4 607.9 623.3 612.9 623.7C617.9 624.1 623.5 623.6 628.8 623.7C634.1 623.8 639.9 624.5 644.7 624.4C649.5 624.3 652.9 623.1 657.4 622.9C661.9 622.6 667.5 622.8 671.7 622.9C675.9 623.0 680.9 623.2 682.8 623.3"/>
</g>
<!--/LINES-->
</svg>
<svg id="logo" viewBox="0 0 110 74">
<rect x="0" y="0" width="110" height="51.5" fill="#d0021b"/>
<rect x="0" y="50.9" width="110" height="23.1" fill="#000"/>
<path d="M97 0L110 0L110 13.5Z" fill="#fff"/>
<path d="M97 0L97 13.5L110 13.5Z" fill="#a30016"/>
<g font-family="Liberation Serif, serif" fill="#fff" stroke="#fff" stroke-width="0.25">
<text x="3.4" y="28.9" font-size="26.3" textLength="57.5" lengthAdjust="spacingAndGlyphs">REAL</text>
<text x="2.8" y="49.9" font-size="26.3" textLength="73.5" lengthAdjust="spacingAndGlyphs">CLEAR</text>
<text x="3.4" y="71.9" font-size="28.4" textLength="103.5" lengthAdjust="spacingAndGlyphs">POLITICS</text>
</g>
</svg>
<div id="subtitle" class="abs">RealClearPolitics Betting Average</div>
<div id="title" class="abs"><span style="letter-spacing:1.37px">2024</span> <span style="letter-spacing:-0.75px">U.S.</span><span style="margin-left:-1.2px"> </span>President</div>
<div id="legend">
<div class="badge" style="left:10px;background:#7b86d0;">51.8</div><div class="lname" style="left:46px;">Harris</div>
<div class="badge" style="left:114px;background:#d0021b;">46.9</div><div class="lname" style="left:151px;">Trump</div>
</div>
<div id="menu"><i style="left:9.6px"></i><i style="left:16.1px"></i><i style="left:22.7px"></i></div>
<div id="wm" class="abs">RCP Betting Average</div>
<div class="abs yl" style="top:220px">70%</div>
<div class="abs yl" style="top:277px">60%</div>
<div class="abs yl" style="top:333px">50%</div>
<div class="abs yl" style="top:390px">40%</div>
<div class="abs yl" style="top:447px">30%</div>
<div class="abs yl" style="top:503px">20%</div>
<div class="abs yl" style="top:560px">10%</div>
<div class="abs yl" style="top:617px">0%</div>
<div class="abs xl" style="left:81px">Jun 16</div>
<div class="abs xl" style="left:165px">Jun 23</div>
<div class="abs xl" style="left:250px">Jun 30</div>
<div class="abs xl" style="left:334px">Jul 07</div>
<div class="abs xl" style="left:418px">Jul 14</div>
<div class="abs xl" style="left:502px">Jul 21</div>
<div class="abs xl" style="left:587px">Jul 28</div>
<div class="abs xl" style="left:671px">Aug 04</div>
<div class="abs xl" style="left:755px">Aug 11</div>
<div class="abs xl" style="left:839px">Aug 18</div>
<div class="abs xl" style="left:924px">Aug 25</div>
<div class="abs xl" style="left:1008px">Sep 01</div>
<div class="abs xl" style="left:1092px">Sep 08</div>
<div id="bar">
<div class="btn" style="left:9px">14D</div>
<div class="btn" style="left:99px">30D</div>
<div class="btn on" style="left:186px">3M</div>
<div class="btn" style="left:269px">6M</div>
<div class="btn" style="left:351px">1Y</div>
<div class="btn" style="left:439px">MAX</div>
<div class="btn" style="left:543px">RESET</div>
</div>
</body>
</html>
